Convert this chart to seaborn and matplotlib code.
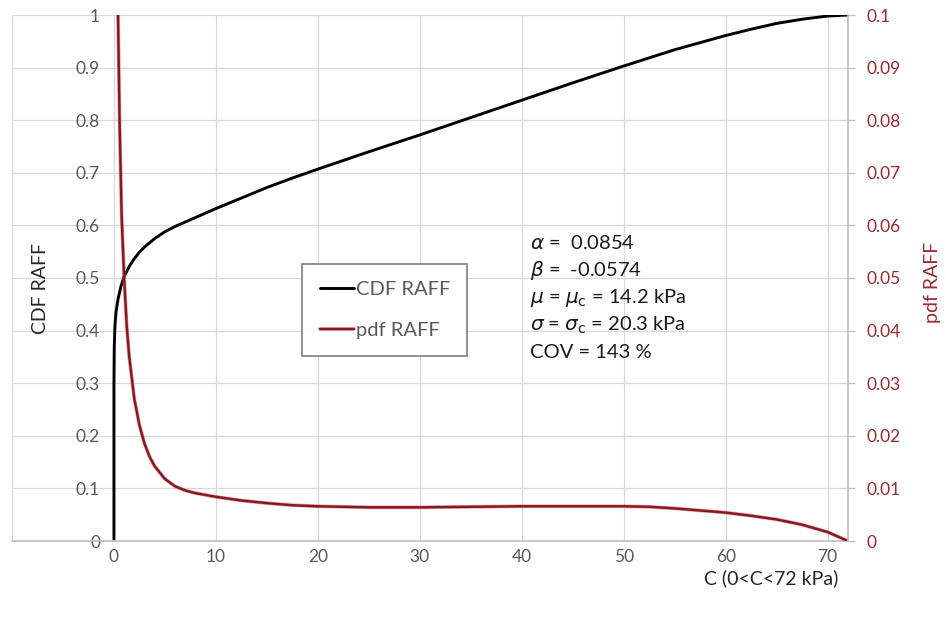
import matplotlib
matplotlib.use('Agg')
import matplotlib.pyplot as plt
import matplotlib.patheffects as pe
import seaborn as sns
import pandas as pd

# CDF of cohesion C
c_cdf = [0, 0, 0.03, 0.1, 0.2, 0.4, 0.7, 1, 1.5, 2, 2.5, 3, 4, 5, 6, 8, 10,
         12.5, 15, 17.5, 20, 25, 30, 35, 40, 45, 50, 55, 60, 62.5, 65, 67.5,
         70, 72]
cdf_raff = [0, 0.3, 0.37, 0.41, 0.435, 0.46, 0.485, 0.503, 0.522, 0.537,
            0.549, 0.559, 0.575, 0.588, 0.598, 0.615, 0.632, 0.652, 0.672,
            0.69, 0.707, 0.74, 0.772, 0.805, 0.838, 0.871, 0.903, 0.934,
            0.961, 0.973, 0.984, 0.992, 0.998, 1.0]

# pdf of cohesion C
c_pdf = [0.3, 0.4, 0.55, 0.75, 1, 1.25, 1.5, 1.75, 2, 2.5, 3, 3.5, 4, 5, 6, 7,
         8, 10, 12.5, 15, 17.5, 20, 25, 30, 35, 40, 45, 50, 52.5, 55, 57.5,
         60, 62.5, 65, 67.5, 70, 72]
pdf_raff = [0.12, 0.1, 0.08, 0.062, 0.05, 0.041, 0.035, 0.031, 0.027, 0.022,
            0.0185, 0.016, 0.0142, 0.0118, 0.0104, 0.0096, 0.0091, 0.0084,
            0.0077, 0.0072, 0.0068, 0.0066, 0.0064, 0.0064, 0.0065, 0.0066,
            0.0066, 0.0066, 0.0065, 0.0062, 0.0058, 0.0054, 0.0048, 0.0041,
            0.0031, 0.0017, 0.0]

x_ticks = [0, 10, 20, 30, 40, 50, 60, 70]
cdf_ticks = [0, 0.1, 0.2, 0.3, 0.4, 0.5, 0.6, 0.7, 0.8, 0.9, 1]
cdf_labels = ['0', '0.1', '0.2', '0.3', '0.4', '0.5', '0.6', '0.7', '0.8', '0.9', '1']
pdf_ticks = [0, 0.01, 0.02, 0.03, 0.04, 0.05, 0.06, 0.07, 0.08, 0.09, 0.1]
pdf_labels = ['0', '0.01', '0.02', '0.03', '0.04', '0.05', '0.06', '0.07', '0.08', '0.09', '0.1']

stats_lines = [r'$\alpha$ =  0.0854',
               r'$\beta$ =  -0.0574',
               r'$\mu$ = $\mu_\mathrm{c}$ = 14.2 kPa',
               r'$\sigma$ = $\sigma_\mathrm{c}$ = 20.3 kPa',
               'COV = 143 %']

sns.set_theme(style="whitegrid")
plt.rcParams['font.family'] = ['Lato', 'DejaVu Sans']

grey = '#595959'
dark_red = '#9b2a30'

cdf_df = pd.DataFrame({'C': c_cdf, 'CDF': cdf_raff})
pdf_df = pd.DataFrame({'C': c_pdf, 'pdf': pdf_raff})

fig = plt.figure(figsize=(9.46, 6.22), dpi=100)
ax = fig.add_axes([12 / 946, 1 - 541 / 622, (848 - 12) / 946, (541 - 15) / 622])
ax2 = ax.twinx()

sns.lineplot(data=cdf_df, x='C', y='CDF', ax=ax, color='black', lw=2.1,
             estimator=None, sort=False, label='CDF RAFF', legend=False)
sns.lineplot(data=pdf_df, x='C', y='pdf', ax=ax2, color='#7e1a20', lw=1.7,
             estimator=None, sort=False, label='pdf RAFF', legend=False,
             path_effects=[pe.Stroke(linewidth=2.7, foreground='#e8535b', alpha=0.6),
                           pe.Normal()])

ax.set_xlim(-10, 72)
ax.set_ylim(0, 1)
ax2.set_ylim(0, 0.1)

ax.set_xticks([-10] + x_ticks, [''] + [str(v) for v in x_ticks])
ax.set_yticks(cdf_ticks, cdf_labels)
ax2.set_yticks(pdf_ticks, pdf_labels)

ax.grid(True, color='#d9d9d9', lw=0.9)
ax2.grid(False)

ax.spines['left'].set_position(('data', 0))
ax.spines['left'].set_color('none')
ax.spines['top'].set_visible(False)
ax.spines['right'].set_visible(False)
ax.spines['bottom'].set_color('#bfbfbf')
for s in ['left', 'top', 'bottom']:
    ax2.spines[s].set_visible(False)
ax2.spines['right'].set_color('#bfbfbf')

ax.tick_params(axis='x', length=0, pad=6, labelsize=12.5, labelcolor=grey)
ax.tick_params(axis='y', length=0, pad=10, labelsize=12.5, labelcolor=grey)
ax2.tick_params(axis='y', length=5, width=0.9, color='#bfbfbf', pad=8,
                labelsize=12.5, labelcolor=dark_red, right=True)
ax.set_xlabel('')
ax.set_ylabel('')
ax2.set_ylabel('')

fig.text(838 / 946, 1 - 578 / 622, 'C (0<C<72 kPa)', ha='right', va='center',
         fontsize=14, color='#262626')
fig.text(40 / 946, 1 - 288 / 622, 'CDF RAFF', rotation=90, ha='center',
         va='center', fontsize=14, color='#262626')
fig.text(932 / 946, 1 - 282 / 622, 'pdf RAFF', rotation=90, ha='center',
         va='center', fontsize=14, color=dark_red)

for i, line in enumerate(stats_lines):
    fig.text(530 / 946, 1 - (243 + 27.5 * i) / 622, line, ha='left',
             va='center', fontsize=14.5, color='#1a1a1a')

h1, l1 = ax.get_legend_handles_labels()
h2, l2 = ax2.get_legend_handles_labels()
leg = ax2.legend(h1 + h2, l1 + l2, loc='center', bbox_to_anchor=(0.446, 0.439),
                 fontsize=14.5, frameon=True, fancybox=False, edgecolor='#7f7f7f',
                 framealpha=1, handlelength=1.7, handletextpad=0.1,
                 labelspacing=1.2, borderpad=0.85)
leg.get_frame().set_linewidth(1.2)
for t in leg.get_texts():
    t.set_color(grey)

fig.savefig('out.png', dpi=100)
